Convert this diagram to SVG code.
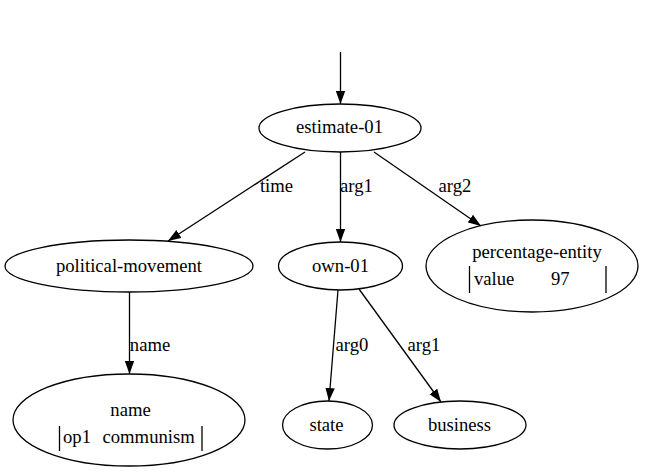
<svg xmlns="http://www.w3.org/2000/svg" width="654" height="476" viewBox="0 0 654 476" font-family="Liberation Serif, Times New Roman, serif" font-size="18.67">
<style>
text{font-family:'Liberation Serif','Times New Roman',serif;font-size:18.67px;fill:#000}
.n ellipse{fill:none;stroke:#000;stroke-width:1.3}
.c line{stroke:#000;stroke-width:1.3;marker-end:url(#ah)}
.bar{stroke:#000;stroke-width:1.3}
.m{text-anchor:middle}
</style>
<defs>
<marker id="ah" markerUnits="userSpaceOnUse" markerWidth="13" markerHeight="10" refX="13" refY="5" orient="auto">
<path d="M0,0.3 L13,5 L0,9.7 z" fill="#000"/>
</marker>
</defs>
<rect width="654" height="476" fill="#fff"/>
<g id="edges" class="c">
<line x1="340.5" y1="52" x2="340.5" y2="104"/>
<line x1="305" y1="152" x2="168" y2="241"/>
<line x1="340.5" y1="152" x2="340.5" y2="242"/>
<line x1="374" y1="152" x2="481" y2="226"/>
<line x1="129.5" y1="292" x2="129.5" y2="374"/>
<line x1="338" y1="290" x2="329" y2="401"/>
<line x1="359" y1="289" x2="441" y2="402"/>
</g>
<g id="edge-labels">
<text x="276.5" y="192" class="m">time</text>
<text x="356.5" y="192" class="m">arg1</text>
<text x="455" y="192" class="m">arg2</text>
<text x="150" y="351" class="m">name</text>
<text x="352" y="351" class="m">arg0</text>
<text x="424" y="351" class="m">arg1</text>
</g>
<g id="estimate-01" class="n">
<ellipse cx="340" cy="128" rx="81" ry="24"/>
<text x="339.5" y="133" class="m">estimate-01</text>
</g>
<g id="political-movement" class="n">
<ellipse cx="129" cy="266" rx="124" ry="26"/>
<text x="129" y="271.5" class="m">political-movement</text>
</g>
<g id="own-01" class="n">
<ellipse cx="340.5" cy="266" rx="62" ry="24"/>
<text x="340.5" y="271.5" class="m">own-01</text>
</g>
<g id="percentage-entity" class="n">
<ellipse cx="532" cy="266" rx="106" ry="46"/>
<text x="537" y="258" class="m">percentage-entity</text>
<line class="bar" x1="469.5" y1="266" x2="469.5" y2="293"/>
<text x="474" y="284.5">value</text>
<text x="551" y="284.5">97</text>
<line class="bar" x1="606" y1="266" x2="606" y2="293"/>
</g>
<g id="name" class="n">
<ellipse cx="129" cy="420" rx="116" ry="46"/>
<text x="130.5" y="416" class="m">name</text>
<line class="bar" x1="59.5" y1="426" x2="59.5" y2="451"/>
<text x="63" y="442.5">op1</text>
<text x="102.5" y="442.5">communism</text>
<line class="bar" x1="202" y1="426" x2="202" y2="451"/>
</g>
<g id="state" class="n">
<ellipse cx="327.5" cy="425" rx="45" ry="24"/>
<text x="326.5" y="430.5" class="m">state</text>
</g>
<g id="business" class="n">
<ellipse cx="460" cy="425" rx="66" ry="24"/>
<text x="459.5" y="430.5" class="m">business</text>
</g>
</svg>
